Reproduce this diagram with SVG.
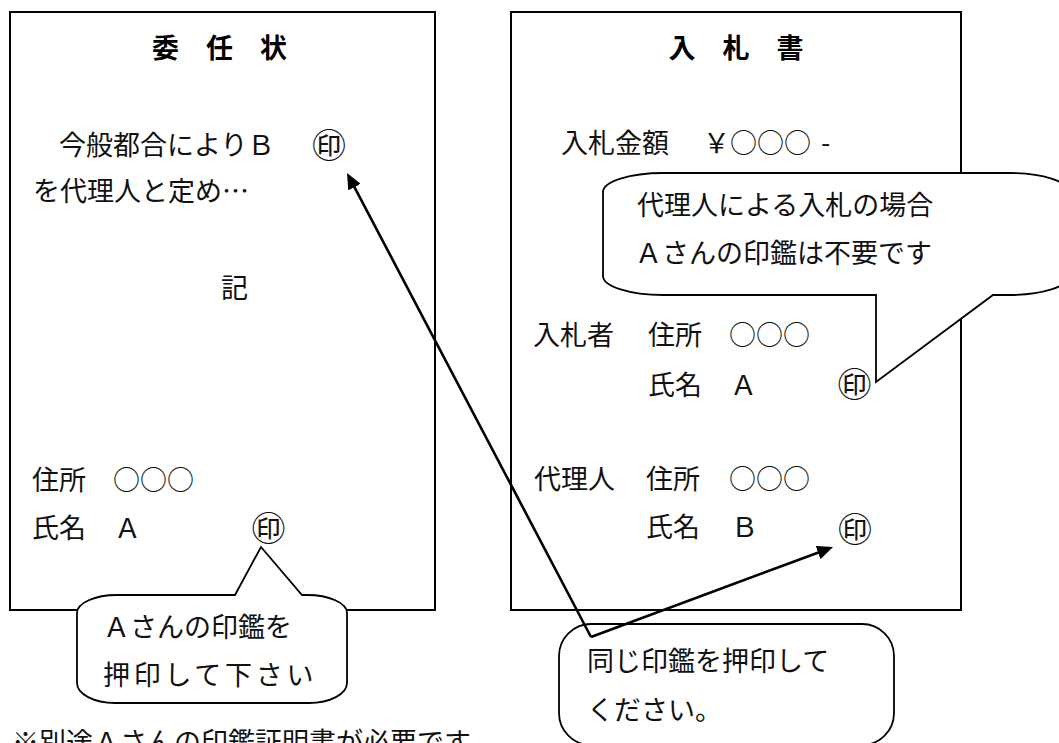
<svg xmlns="http://www.w3.org/2000/svg" width="1059" height="743" viewBox="0 0 1059 743">
<style>
.box{fill:#fff;stroke:#000;stroke-width:2}
.call{fill:#fff;stroke:#000;stroke-width:1.8;stroke-linejoin:miter}
.t{font-family:"Noto Sans CJK JP","Noto Sans CJK SC",sans-serif;font-size:27px;fill:#111}
.seal{font-family:"Noto Sans CJK JP","Noto Sans CJK SC",sans-serif;font-size:34px;fill:#111;text-anchor:middle}
.title{font-family:"Noto Sans CJK JP","Noto Sans CJK SC",sans-serif;font-size:27px;font-weight:bold;fill:#000;text-anchor:middle}
.arr{fill:none;stroke:#000;stroke-width:2.6}
</style>
<defs>
<marker id="ah" viewBox="0 0 16 14" refX="4" refY="7" markerWidth="16" markerHeight="14" markerUnits="userSpaceOnUse" orient="auto">
<path d="M0,0 L16,7 L0,14 Z" fill="#000"/>
</marker>
</defs>
<rect width="1059" height="743" fill="#fff"/>

<g id="doc-ininjo">
<rect class="box" x="10" y="12" width="425" height="598"/>
<text class="title" x="219.5" y="58">委　任　状</text>
<text class="t" x="59" y="155">今般都合によりＢ</text>
<text class="seal" x="329" y="158">㊞</text>
<text class="t" x="33" y="201">を代理人と定め…</text>
<text class="t" x="221" y="298">記</text>
<text class="t" x="32" y="490">住所</text>
<text class="t" x="113" y="490">○○○</text>
<text class="t" x="32" y="538">氏名</text>
<text class="t" x="114" y="538">Ａ</text>
<text class="seal" x="268.5" y="541">㊞</text>
</g>

<g id="doc-nyusatsu">
<rect class="box" x="511" y="12" width="450" height="598"/>
<text class="title" x="736" y="58">入　札　書</text>
<text class="t" x="561" y="153">入札金額</text>
<text class="t" x="703" y="153">￥○○○</text>
<text class="t" x="821" y="153">-</text>
<text class="t" x="533" y="345">入札者</text>
<text class="t" x="648" y="345">住所</text>
<text class="t" x="729" y="345">○○○</text>
<text class="t" x="648" y="395">氏名</text>
<text class="t" x="730" y="395">Ａ</text>
<text class="seal" x="854.5" y="396.5">㊞</text>
<text class="t" x="534" y="489">代理人</text>
<text class="t" x="646" y="489">住所</text>
<text class="t" x="729" y="489">○○○</text>
<text class="t" x="646" y="537">氏名</text>
<text class="t" x="731" y="537">Ｂ</text>
<text class="seal" x="855" y="542">㊞</text>
</g>

<g id="callout-a-seal">
<path class="call" d="M117,595 L235,595 L261,547 L302,595 L307,595 A40,18 0 0 1 347,613 L347,683 A38,20 0 0 1 309,703 L115,703 A38,20 0 0 1 77,683 L77,613 A40,18 0 0 1 117,595 Z"/>
<text class="t" x="103" y="637">Ａさんの印鑑を</text>
<text class="t" x="103" y="685" letter-spacing="3.7">押印して下さい</text>
</g>

<g id="callout-proxy">
<path class="call" d="M663,173 L1009,173 A60,19 0 0 1 1069,192 L1069,276 A60,19 0 0 1 1009,295 L993,295 L876,382 L876,295 L663,295 A60,19 0 0 1 603,276 L603,192 A60,19 0 0 1 663,173 Z"/>
<text class="t" x="637" y="215">代理人による入札の場合</text>
<text class="t" x="635" y="263">Ａさんの印鑑は不要です</text>
</g>

<g id="callout-same-seal">
<rect class="call" x="559" y="624" width="335" height="121" rx="32" ry="32"/>
<text class="t" x="587" y="671">同じ印鑑を押印して</text>
<text class="t" x="587" y="720">ください。</text>
</g>

<g id="note">
<text class="t" x="12" y="752">※別途Ａさんの印鑑証明書が必要です</text>
</g>

<g id="connectors">
<line class="arr" x1="591" y1="637" x2="352.6" y2="183.6" marker-end="url(#ah)"/>
<line class="arr" x1="591" y1="637" x2="821.8" y2="551.2" marker-end="url(#ah)"/>
</g>
</svg>
